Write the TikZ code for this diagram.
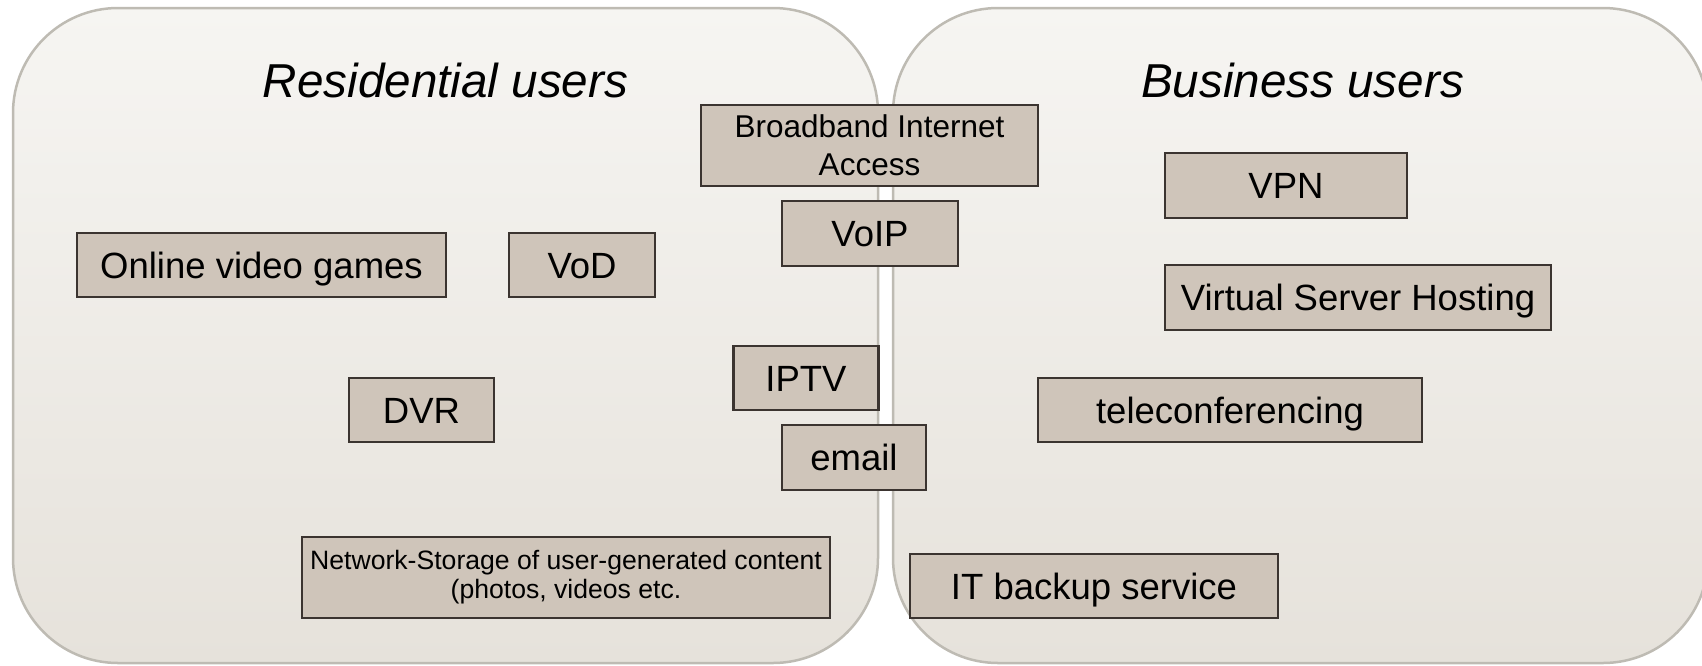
\documentclass[tikz,border=0pt]{standalone}
\usepackage{fontspec}
\setmainfont{Liberation Sans}
\usetikzlibrary{positioning}

\definecolor{panelTop}{HTML}{F6F5F2}
\definecolor{panelBottom}{HTML}{E6E2DB}
\definecolor{panelEdge}{HTML}{BEBBB3}
\definecolor{svcFill}{HTML}{CFC5BA}
\definecolor{svcEdge}{HTML}{3B3430}

\tikzset{
  panel/.style={draw=panelEdge, line width=2.5pt, rounded corners=105pt,
                top color=panelTop, bottom color=panelBottom},
  paneltitle/.style={anchor=base, inner sep=0pt,
                font=\fontsize{47.6}{56}\selectfont\itshape},
  svc/.style={draw=svcEdge, fill=svcFill, line width=2.8pt, inner sep=0pt,
              font=\fontsize{36.5}{42}\selectfont,
              text height=26pt, text depth=0pt},
  svcsmall/.style={draw=svcEdge, fill=svcFill, line width=2.8pt, inner sep=0pt,
              align=center},
}

\begin{document}
\begin{tikzpicture}[x=1pt,y=-1pt]
\useasboundingbox (0,0) rectangle (1702,665);
\clip (0,0) rectangle (1702,665);

% the two user groups
\path[panel] (13,8) rectangle (878,663);
\path[panel] (893,8) rectangle (1708,663);

\node[paneltitle] (restitle) at (445.5,97) {Residential users};
\node[paneltitle] (bustitle) at (1302.6,97) {Business users};

% services shared by both groups
\node[svcsmall, minimum width=337pt, minimum height=81pt,
      font=\fontsize{31.5}{38}\selectfont] (broadband) at (869.5,145.5)
      {Broadband Internet\\Access};
\node[svc, minimum width=176pt, minimum height=65pt] (voip) at (870,233.5) {VoIP};
\node[svc, minimum width=145pt, minimum height=64pt] (iptv) at (806,378) {IPTV};
\node[svc, minimum width=144pt, minimum height=65pt] (email) at (854,457.5) {email};

% residential services
\node[svc, minimum width=369pt, minimum height=64pt] (games) at (261.5,265) {Online video games};
\node[svc, minimum width=146pt, minimum height=64pt] (vod) at (582,265) {VoD};
\node[svc, minimum width=145pt, minimum height=64pt] (dvr) at (421.5,410) {DVR};
\node[svcsmall, minimum width=528pt, minimum height=81pt,
      font=\fontsize{26.6}{29}\selectfont] (storage) at (566,577.5)
      {Network-Storage of user-generated content\\(photos, videos etc.};

% business services
\node[svc, minimum width=242pt, minimum height=65pt] (vpn) at (1286,185.5) {VPN};
\node[svc, minimum width=386pt, minimum height=65pt] (vsh) at (1358,297.5) {Virtual Server Hosting};
\node[svc, minimum width=384pt, minimum height=64pt] (tele) at (1230,410) {teleconferencing};
\node[svc, minimum width=368pt, minimum height=64pt] (backup) at (1094,586) {IT backup service};
\end{tikzpicture}
\end{document}
